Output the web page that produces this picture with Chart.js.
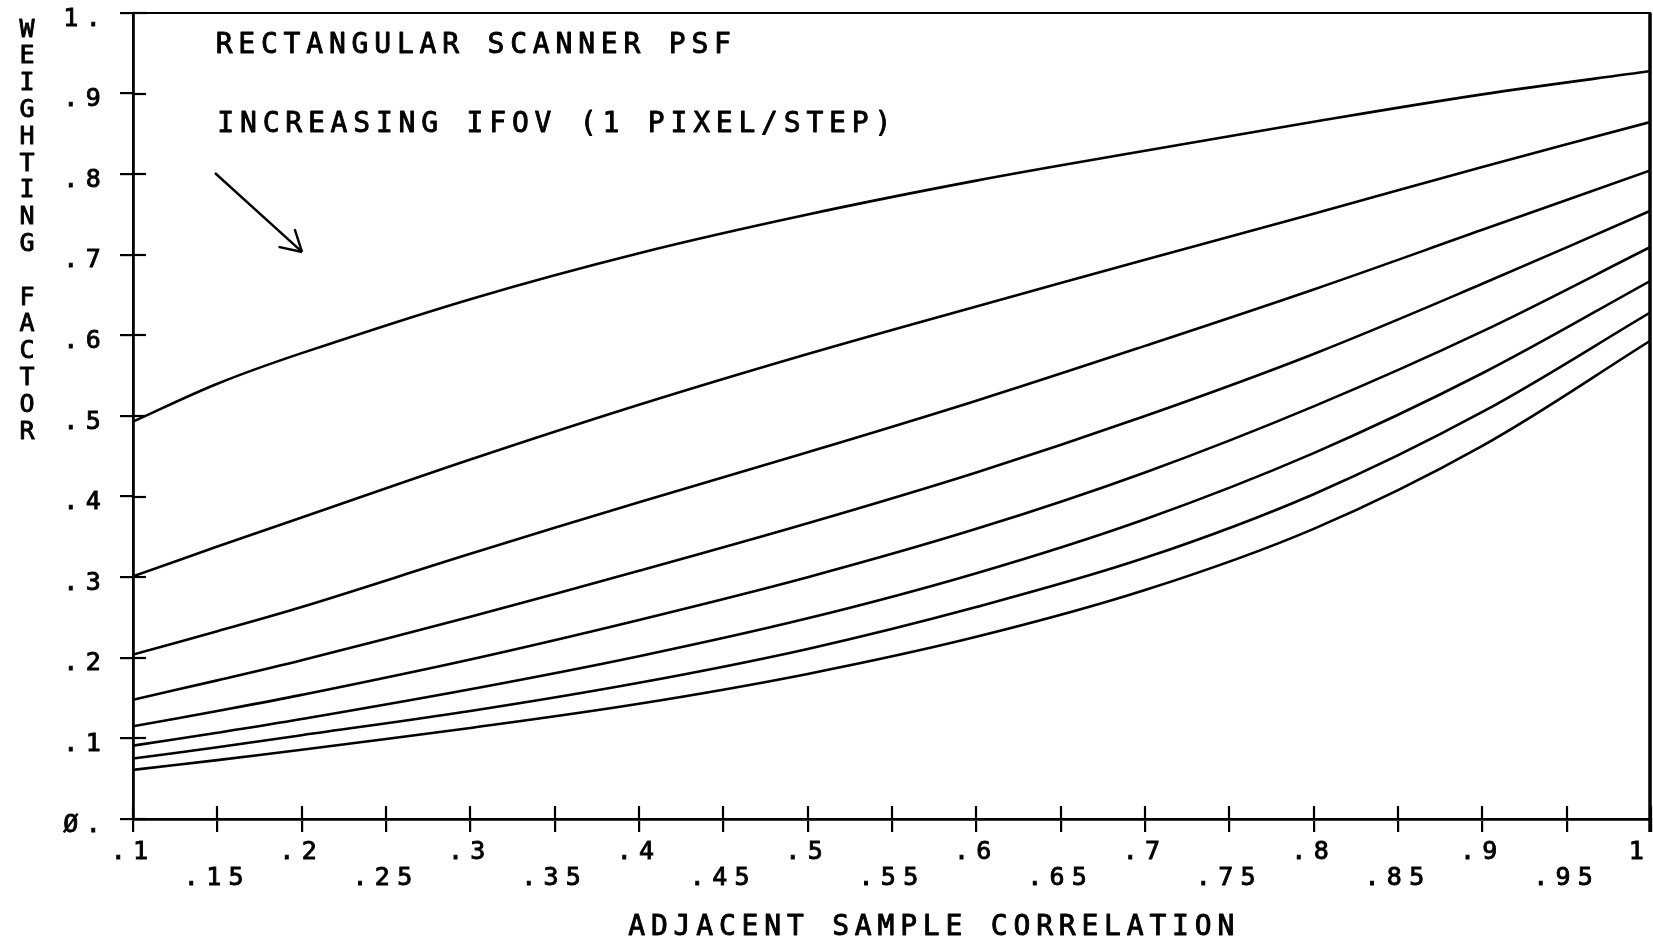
<!DOCTYPE html>
<html>
<head>
<meta charset="utf-8">
<title>Weighting factor vs adjacent sample correlation</title>
<script src="https://cdn.jsdelivr.net/npm/chart.js@4.4.1/dist/chart.umd.min.js"></script>
<style>
  html, body { margin: 0; padding: 0; background: #ffffff; }
  #wrap { width: 1653px; height: 944px; position: relative; background: #ffffff; }
  canvas { display: block; }
</style>
</head>
<body>
<div id="wrap"><canvas id="chart" width="1653" height="944"></canvas></div>
<script>
// Adjacent sample correlation (x) and weighting factor per IFOV width (1 pixel per step)
const correlation = [0.10, 0.15, 0.20, 0.30, 0.40, 0.50, 0.60, 0.70, 0.80, 0.90, 1.00];
const ifov1 = [0.493, 0.540, 0.578, 0.645, 0.702, 0.750, 0.792, 0.829, 0.865, 0.899, 0.928];
const ifov2 = [0.301, 0.338, 0.374, 0.446, 0.514, 0.577, 0.636, 0.694, 0.751, 0.809, 0.865];
const ifov3 = [0.204, 0.233, 0.263, 0.329, 0.393, 0.455, 0.519, 0.587, 0.657, 0.731, 0.805];
const ifov4 = [0.148, 0.172, 0.197, 0.251, 0.308, 0.367, 0.430, 0.500, 0.577, 0.664, 0.755];
const ifov5 = [0.115, 0.134, 0.154, 0.198, 0.247, 0.300, 0.360, 0.430, 0.512, 0.605, 0.710];
const ifov6 = [0.091, 0.107, 0.124, 0.161, 0.202, 0.249, 0.305, 0.372, 0.454, 0.553, 0.668];
const ifov7 = [0.075, 0.089, 0.104, 0.134, 0.169, 0.211, 0.263, 0.324, 0.403, 0.505, 0.629];
const ifov8 = [0.061, 0.073, 0.086, 0.113, 0.143, 0.180, 0.226, 0.284, 0.360, 0.463, 0.594];

// Axis tick labels in plotter style
const yTickLabels = ['Ø.', '.1', '.2', '.3', '.4', '.5', '.6', '.7', '.8', '.9', '1.'];
const xTickLabels = ['.1', '.15', '.2', '.25', '.3', '.35', '.4', '.45', '.5', '.55',
                     '.6', '.65', '.7', '.75', '.8', '.85', '.9', '.95', '1'];

const titleLine1 = 'RECTANGULAR SCANNER PSF';
const titleLine2 = 'INCREASING IFOV (1 PIXEL/STEP)';
const xTitle = 'ADJACENT SAMPLE CORRELATION';
const yTitle = 'WEIGHTING FACTOR';

const series = [ifov1, ifov2, ifov3, ifov4, ifov5, ifov6, ifov7, ifov8];

const MONO = "'DejaVu Sans Mono', 'Liberation Mono', monospace";
const INK = '#000000';
const PEN = 0.9; // extra stroke so lettering has the plotter pen weight

const datasets = series.map((vals, k) => ({
  label: 'IFOV ' + (k + 1),
  data: correlation.map((c, i) => ({ x: c, y: vals[i] })),
  borderColor: INK,
  borderWidth: 2.6,
  pointRadius: 0,
  fill: false,
  tension: 0.35
}));

// Plotter lettering is widely spaced; apply it to the axis text
const letterSpacingPlugin = {
  id: 'plotterLetterSpacing',
  beforeLayout(chart) { chart.ctx.letterSpacing = '7.3px'; },
  beforeDraw(chart) { chart.ctx.letterSpacing = '7.3px'; }
};

function seg(ctx, x1, y1, x2, y2) {
  ctx.beginPath();
  ctx.moveTo(x1, y1);
  ctx.lineTo(x2, y2);
  ctx.stroke();
}

function penText(ctx, txt, x, y) {
  ctx.fillText(txt, x, y);
  ctx.strokeText(txt, x, y);
}

// Frame, inner tick halves, annotations and axis titles
const framePlugin = {
  id: 'plotFrame',
  afterDraw(chart) {
    const { ctx, chartArea: a } = chart;
    const xs = chart.scales.x, ys = chart.scales.y;
    ctx.save();
    ctx.letterSpacing = '0px';
    ctx.strokeStyle = INK;
    ctx.fillStyle = INK;
    ctx.lineCap = 'butt';

    // top and right edges of the plot box
    ctx.lineWidth = 2.2;
    seg(ctx, a.left, a.top, a.right, a.top);
    ctx.lineWidth = 3.5;
    seg(ctx, a.right - 1, a.top, a.right - 1, a.bottom + 13);

    // tick marks cross the axes: draw the inner halves
    ctx.lineWidth = 2.2;
    ys.ticks.forEach(t => {
      const py = Math.round(ys.getPixelForValue(t.value));
      seg(ctx, a.left, py, a.left + 13, py);
    });
    xs.ticks.forEach(t => {
      const px = Math.round(xs.getPixelForValue(t.value));
      seg(ctx, px, a.bottom, px, a.bottom - 13);
    });

    // arrow pointing down through the family of curves
    const tx = xs.getPixelForValue(0.1486), ty = ys.getPixelForValue(0.8015);
    const hx = xs.getPixelForValue(0.2002), hy = ys.getPixelForValue(0.7035);
    ctx.lineWidth = 2.4;
    seg(ctx, tx, ty, hx, hy);
    const ang = Math.atan2(ty - hy, tx - hx);
    const barb = 24, spread = Math.PI / 6;
    seg(ctx, hx, hy, hx + barb * Math.cos(ang + spread), hy + barb * Math.sin(ang + spread));
    seg(ctx, hx, hy, hx + barb * Math.cos(ang - spread), hy + barb * Math.sin(ang - spread));

    // annotation text
    ctx.lineWidth = PEN;
    ctx.lineJoin = 'round';
    ctx.font = '28px ' + MONO;
    ctx.letterSpacing = '5.8px';
    ctx.textAlign = 'left';
    ctx.textBaseline = 'middle';
    penText(ctx, titleLine1, xs.getPixelForValue(0.149), ys.getPixelForValue(0.960));
    penText(ctx, titleLine2, xs.getPixelForValue(0.150), ys.getPixelForValue(0.861));

    // x axis title
    ctx.textAlign = 'center';
    penText(ctx, xTitle, xs.getPixelForValue(0.575), a.bottom + 109);

    // y axis title, letters stacked upright
    ctx.font = '25px ' + MONO;
    ctx.letterSpacing = '0px';
    ctx.textAlign = 'center';
    const chars = Array.from(yTitle);
    chars.forEach((ch, i) => {
      if (ch !== ' ') penText(ctx, ch, 27, 30 + i * 26.8);
    });
    ctx.restore();
  }
};

const chart = new Chart(document.getElementById('chart'), {
  type: 'line',
  data: { datasets },
  options: {
    responsive: false,
    animation: false,
    devicePixelRatio: 1,
    layout: { padding: { top: 13, right: 2, left: 0, bottom: 0 } },
    plugins: {
      legend: { display: false },
      tooltip: { enabled: false },
      title: { display: false }
    },
    scales: {
      x: {
        type: 'linear',
        min: 0.1,
        max: 1.0,
        afterFit(scale) {
          scale.height = 125;
          scale.paddingLeft = 0;
          scale.paddingRight = 0;
        },
        border: { display: true, color: INK, width: 2.8 },
        grid: { drawOnChartArea: false, drawTicks: true, tickLength: 13, color: INK, lineWidth: 2.2 },
        ticks: {
          stepSize: 0.05,
          autoSkip: false,
          maxRotation: 0,
          minRotation: 0,
          padding: 7,
          color: INK,
          textStrokeColor: INK,
          textStrokeWidth: PEN,
          font: { family: MONO, size: 25, lineHeight: 1.04 },
          callback(value) {
            const i = Math.round((value - 0.1) / 0.05);
            const txt = xTickLabels[i];
            if (i === xTickLabels.length - 1) return txt + ' ';
            return i % 2 ? ['', txt] : txt;
          }
        }
      },
      y: {
        type: 'linear',
        min: 0,
        max: 1,
        afterFit(scale) {
          scale.width = 133;
          scale.paddingTop = 0;
          scale.paddingBottom = 0;
        },
        border: { display: true, color: INK, width: 2.8 },
        grid: { drawOnChartArea: false, drawTicks: true, tickLength: 13, color: INK, lineWidth: 2.2 },
        ticks: {
          stepSize: 0.1,
          padding: 12,
          labelOffset: 6,
          color: INK,
          textStrokeColor: INK,
          textStrokeWidth: PEN,
          font: { family: MONO, size: 25 },
          callback(value) {
            return yTickLabels[Math.round(value * 10)];
          }
        }
      }
    }
  },
  plugins: [letterSpacingPlugin, framePlugin]
});
</script>
</body>
</html>
